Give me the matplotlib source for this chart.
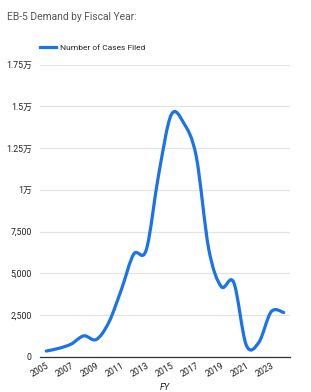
import matplotlib
matplotlib.use("Agg")
import matplotlib.pyplot as plt
import numpy as np
from matplotlib.path import Path
from matplotlib.patches import PathPatch
from matplotlib.lines import Line2D

years = [2005, 2006, 2007, 2008, 2009, 2010, 2011, 2012, 2013, 2014,
         2015, 2016, 2017, 2018, 2019, 2020, 2021, 2022, 2023, 2024]
cases = [340, 500, 760, 1250, 1030, 2050, 4000, 6150, 6400, 10950,
         14500, 14000, 12000, 6450, 4200, 4450, 700, 850, 2700, 2650]
yticks = [0, 2500, 5000, 7500, 10000, 12500, 15000, 17500]
ytick_labels = ["0", "2,500", "5,000", "7,500", "1万", "1.25万", "1.5万", "1.75万"]
xticks = [2005, 2007, 2009, 2011, 2013, 2015, 2017, 2019, 2021, 2023]
series_label = "Number of Cases Filed"
title = "EB-5 Demand by Fiscal Year:"

FONT = ["Roboto", "Noto Sans CJK SC", "DejaVu Sans"]
plt.rcParams["font.family"] = FONT
BLUE = "#1a73e8"

fig = plt.figure(figsize=(3.11, 3.92), dpi=100)
ax = fig.add_axes([40/311, 1-356.7/392, 250/311, (356.7-64.7)/392])

# smooth curve through the data points (cubic Bezier segments)
pts = np.column_stack([years, cases]).astype(float)
n = len(pts)
t = 1/6
verts = [pts[0]]
codes = [Path.MOVETO]
for i in range(n-1):
    p0 = pts[i-1] if i > 0 else pts[i]
    p1 = pts[i]
    p2 = pts[i+1]
    p3 = pts[i+2] if i+2 < n else pts[i+1]
    c1 = p1 + (p2 - p0) * t
    c2 = p2 - (p3 - p1) * t
    verts += [c1, c2, p2]
    codes += [Path.CURVE4]*3
patch = PathPatch(Path(verts, codes), transform=ax.transData, fill=False,
                  edgecolor=BLUE, lw=2.3, capstyle="round", joinstyle="round", zorder=3)
ax.add_patch(patch)

ax.set_xlim(2004.5, 2024.5)
ax.set_ylim(0, 17500)
ax.set_yticks(yticks)
ax.set_yticklabels(ytick_labels)
ax.set_xticks(xticks)
ax.set_xticklabels([str(x) for x in xticks], rotation=30, ha="right", rotation_mode="anchor")
ax.tick_params(axis="both", length=0, labelsize=6.3, colors="#222222")
ax.tick_params(axis="y", pad=6)
ax.tick_params(axis="x", pad=3)
ax.grid(axis="y", color="#e3e3e3", lw=0.9)
ax.set_axisbelow(True)
for s in ["top", "right", "left"]:
    ax.spines[s].set_visible(False)
ax.spines["bottom"].set_color("#333333")
ax.spines["bottom"].set_linewidth(0.9)
ax.spines["bottom"].set_zorder(4)
ax.set_xlabel("FY", fontsize=6.5, style="italic", color="#222222", labelpad=3)

fig.text(7/311, 1-17/392, title, fontsize=7.4, color="#555555", va="center", ha="left")

proxy = Line2D([], [], color=BLUE, lw=2.3)
fig.legend(handles=[proxy], labels=[series_label], loc="center left",
           bbox_to_anchor=(32/311, 1-47.5/392), frameon=False, fontsize=6.0,
           handlelength=2.0, handletextpad=0.5, labelcolor="#222222")

fig.savefig("out.png", dpi=100)
